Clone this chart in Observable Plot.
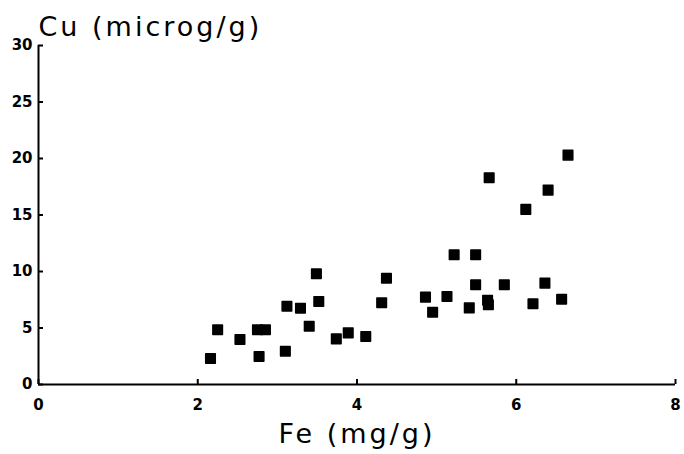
<!DOCTYPE html>
<html>
<head>
<meta charset="utf-8">
<script src="https://cdn.jsdelivr.net/npm/d3@7"></script>
<script src="https://cdn.jsdelivr.net/npm/@observablehq/plot@0.6"></script>
<style>
  body { margin: 0; background: #fff; }
</style>
</head>
<body>
<div id="chart"></div>
<script>
// Fe (mg/g) and Cu (microg/g) values
const fe = [2.16, 2.25, 2.53, 2.77, 2.75, 2.85, 3.12, 3.29, 3.10, 3.40, 3.49, 3.52, 3.74, 3.89, 4.11, 4.31, 4.37, 4.86, 4.95, 5.13, 5.22, 5.49, 5.49, 5.41, 5.64, 5.65, 5.85, 5.66, 6.12, 6.40, 6.65, 6.36, 6.21, 6.57];
const cu = [2.3, 4.84, 3.98, 2.48, 4.84, 4.84, 6.93, 6.75, 2.95, 5.16, 9.80, 7.35, 4.04, 4.57, 4.25, 7.23, 9.41, 7.73, 6.40, 7.79, 11.48, 11.48, 8.82, 6.78, 7.45, 7.05, 8.82, 18.3, 15.5, 17.2, 20.3, 8.97, 7.14, 7.55];
const xTicks = [0, 2, 4, 6, 8];
const yTicks = [0, 5, 10, 15, 20, 25, 30];
const xTitle = "Fe (mg/g)";
const yTitle = "Cu (microg/g)";

const data = fe.map((x, i) => ({fe: x, cu: cu[i]}));

const chart = Plot.plot({
  width: 684,
  height: 454,
  marginTop: 45,
  marginBottom: 70,
  marginLeft: 38,
  marginRight: 9,
  style: {fontFamily: "DejaVu Sans", fontSize: "15px", fontWeight: "bold", color: "black", background: "white"},
  x: {domain: [0, 8]},
  y: {domain: [0, 30]},
  marks: [
    Plot.axisX({ticks: xTicks, tickSize: -5, tickPadding: 20, strokeWidth: 2, label: null}),
    Plot.axisY({ticks: yTicks, tickSize: -5, tickPadding: 11, strokeWidth: 2, label: null}),
    Plot.ruleX([0], {strokeWidth: 2}),
    Plot.ruleY([0], {strokeWidth: 2}),
    Plot.dot(data, {x: "fe", y: "cu", symbol: "square", r: 5.4, fill: "black", stroke: "black", strokeWidth: 1.5, strokeLinejoin: "round"}),
    Plot.text([xTitle], {frameAnchor: "bottom", lineAnchor: "top", dy: 39, fontSize: 27, fontWeight: "normal", fill: "black", text: d => d}),
    Plot.text([yTitle], {frameAnchor: "top-left", textAnchor: "start", lineAnchor: "bottom", dy: -10, fontSize: 27, fontWeight: "normal", fill: "black", text: d => d})
  ]
});
d3.select(chart).selectAll("text")
  .filter(function() { return this.textContent === xTitle || this.textContent === yTitle; })
  .style("letter-spacing", "3px");
document.getElementById("chart").append(chart);
</script>
</body>
</html>
